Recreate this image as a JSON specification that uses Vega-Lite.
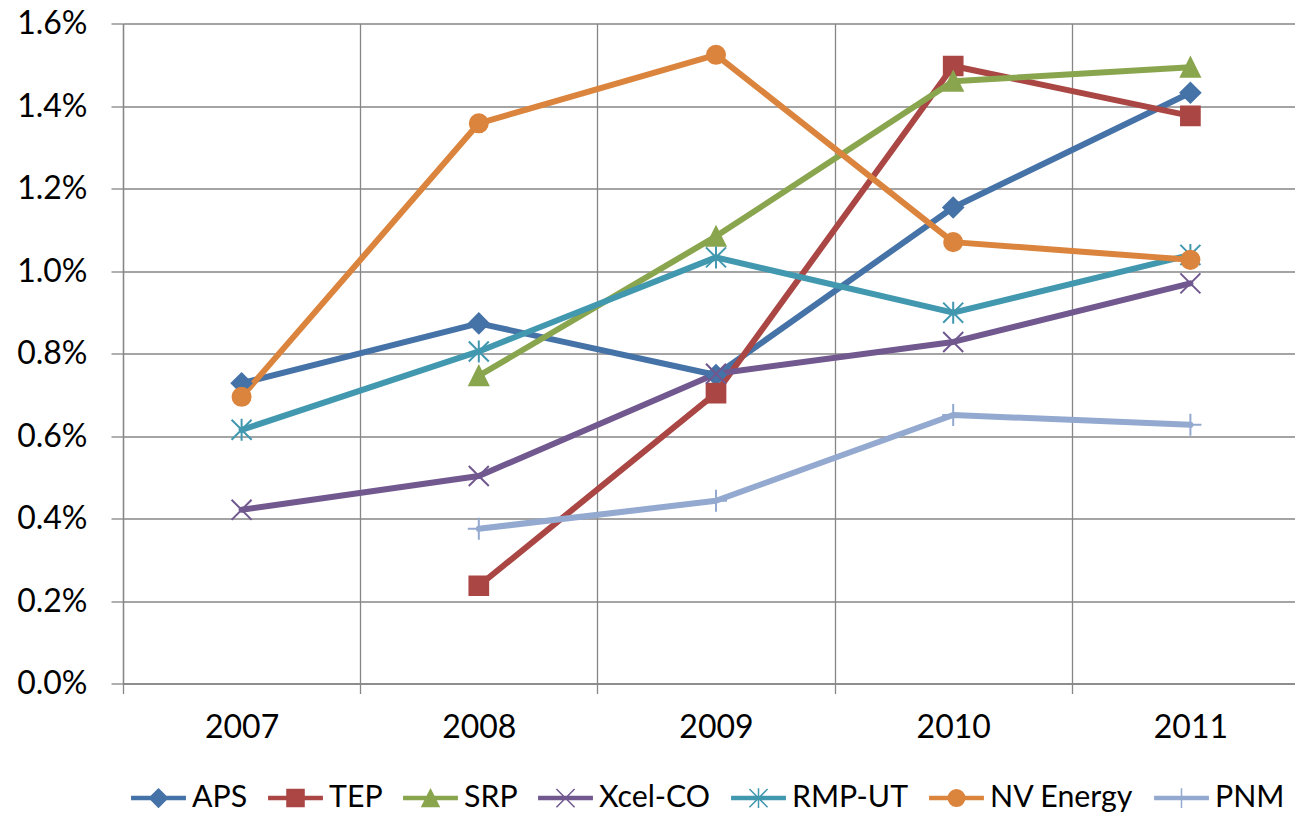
{
  "$schema": "https://vega.github.io/schema/vega-lite/v6.json",
  "width": 1172,
  "height": 660,
  "autosize": {"type": "none"},
  "padding": {"left": 123, "top": 23.5, "right": 0, "bottom": 131.5},
  "background": "white",
  "config": {
    "view": {"stroke": null},
    "font": "Lato",
    "legend": {"padding": 0, "labelFontSize": 30.3, "labelFont": "Lato", "labelColor": "black", "labelOffset": 5, "columnPadding": 17, "symbolSize": 3025, "labelLimit": 400}
  },
  "data": {
    "values": [
      {"series": "APS", "year": 2007, "value": 0.00728},
      {"series": "APS", "year": 2008, "value": 0.00873},
      {"series": "APS", "year": 2009, "value": 0.00748},
      {"series": "APS", "year": 2010, "value": 0.01154},
      {"series": "APS", "year": 2011, "value": 0.01432},
      {"series": "TEP", "year": 2008, "value": 0.00237},
      {"series": "TEP", "year": 2009, "value": 0.00704},
      {"series": "TEP", "year": 2010, "value": 0.01497},
      {"series": "TEP", "year": 2011, "value": 0.01376},
      {"series": "SRP", "year": 2008, "value": 0.00746},
      {"series": "SRP", "year": 2009, "value": 0.01084},
      {"series": "SRP", "year": 2010, "value": 0.0146},
      {"series": "SRP", "year": 2011, "value": 0.01494},
      {"series": "Xcel-CO", "year": 2007, "value": 0.00421},
      {"series": "Xcel-CO", "year": 2008, "value": 0.00503},
      {"series": "Xcel-CO", "year": 2009, "value": 0.00751},
      {"series": "Xcel-CO", "year": 2010, "value": 0.00828},
      {"series": "Xcel-CO", "year": 2011, "value": 0.0097},
      {"series": "RMP-UT", "year": 2007, "value": 0.00615},
      {"series": "RMP-UT", "year": 2008, "value": 0.00805},
      {"series": "RMP-UT", "year": 2009, "value": 0.01033},
      {"series": "RMP-UT", "year": 2010, "value": 0.00899},
      {"series": "RMP-UT", "year": 2011, "value": 0.01039},
      {"series": "NV Energy", "year": 2007, "value": 0.00695},
      {"series": "NV Energy", "year": 2008, "value": 0.01358},
      {"series": "NV Energy", "year": 2009, "value": 0.01524},
      {"series": "NV Energy", "year": 2010, "value": 0.0107},
      {"series": "NV Energy", "year": 2011, "value": 0.01027},
      {"series": "PNM", "year": 2008, "value": 0.00375},
      {"series": "PNM", "year": 2009, "value": 0.00443},
      {"series": "PNM", "year": 2010, "value": 0.00651},
      {"series": "PNM", "year": 2011, "value": 0.00627}
    ]
  },
  "encoding": {
    "x": {
      "field": "year",
      "type": "quantitative",
      "scale": {"domain": [2006.5, 2011.441], "nice": false, "zero": false},
      "axis": {
        "title": null,
        "values": [2006.5, 2007.5, 2008.5, 2009.5, 2010.5],
        "labelExpr": "format(datum.value + 0.5, 'd')",
        "labelOffset": 118.6,
        "labelFlush": false,
        "labelOverlap": false,
        "labelBound": false,
        "labelFontSize": 32,
        "labelFont": "Lato",
        "labelColor": "black",
        "labelPadding": 19,
        "grid": true,
        "gridColor": "#868686",
        "gridWidth": 1.3,
        "domainColor": "#868686",
        "domainWidth": 1.3,
        "tickColor": "#868686",
        "tickWidth": 1.3,
        "tickSize": 10
      }
    },
    "y": {
      "field": "value",
      "type": "quantitative",
      "scale": {"domain": [0, 0.016], "nice": false},
      "axis": {
        "title": null,
        "values": [0, 0.002, 0.004, 0.006, 0.008, 0.01, 0.012, 0.014, 0.016],
        "format": ".1%",
        "labelFontSize": 32,
        "labelFont": "Lato",
        "labelColor": "black",
        "labelPadding": 24,
        "grid": true,
        "gridColor": "#868686",
        "gridWidth": 1.3,
        "domainColor": "#868686",
        "domainWidth": 1.3,
        "tickColor": "#868686",
        "tickWidth": 1.3,
        "tickSize": 12
      }
    }
  },
  "layer": [
    {
      "mark": {"type": "line", "strokeWidth": 6, "strokeJoin": "round", "strokeCap": "round"},
      "encoding": {
        "color": {
          "field": "series", "type": "nominal",
          "scale": {"domain": ["APS", "TEP", "SRP", "Xcel-CO", "RMP-UT", "NV Energy", "PNM"], "range": ["#4572A7", "#AA4643", "#89A54E", "#71588F", "#4198AF", "#DB843D", "#93A9CF"]},
          "legend": null
        }
      }
    },
    {
      "mark": {"type": "point", "filled": true, "size": 484, "strokeWidth": 2, "opacity": 1},
      "encoding": {
        "color": {
          "field": "series", "type": "nominal",
          "scale": {"domain": ["APS", "TEP", "SRP", "Xcel-CO", "RMP-UT", "NV Energy", "PNM"], "range": ["#4572A7", "#AA4643", "#89A54E", "#71588F", "#4198AF", "#DB843D", "#93A9CF"]},
          "legend": null
        },
        "stroke": {
          "field": "series", "type": "nominal",
          "scale": {"domain": ["APS", "TEP", "SRP", "Xcel-CO", "RMP-UT", "NV Energy", "PNM"], "range": ["#4572A7", "#AA4643", "#89A54E", "#71588F", "#4198AF", "#DB843D", "#93A9CF"]},
          "legend": null
        },
        "shape": {
          "field": "series", "type": "nominal",
          "scale": {
            "domain": ["APS", "TEP", "SRP", "Xcel-CO", "RMP-UT", "NV Energy", "PNM"],
            "range": [
              "M-0.9,0L0,-0.9L0.9,0L0,0.9Z",
              "M-0.85,-0.85L0.85,-0.85L0.85,0.85L-0.85,0.85Z",
              "M0,-0.86L0.86,0.86L-0.86,0.86Z",
              "M-0.91,-0.91L0.91,0.91M-0.91,0.91L0.91,-0.91",
              "M-0.91,-0.91L0.91,0.91M-0.91,0.91L0.91,-0.91M0,-1L0,1",
              "M-0.82,0A0.82,0.82 0 1,1 0.82,0A0.82,0.82 0 1,1 -0.82,0Z",
              "M-1,0L1,0M0,-1L0,1"
            ]
          },
          "legend": null
        }
      }
    },
    {
      "mark": {"type": "point", "filled": true, "size": 0, "strokeWidth": 2, "opacity": 1},
      "encoding": {
        "color": {
          "field": "series", "type": "nominal",
          "scale": {"domain": ["APS", "TEP", "SRP", "Xcel-CO", "RMP-UT", "NV Energy", "PNM"], "range": ["#4572A7", "#AA4643", "#89A54E", "#71588F", "#4198AF", "#DB843D", "#93A9CF"]},
          "legend": {"title": null, "orient": "none", "legendX": 7, "legendY": 746, "direction": "horizontal", "columns": 7}
        },
        "stroke": {
          "field": "series", "type": "nominal",
          "scale": {"domain": ["APS", "TEP", "SRP", "Xcel-CO", "RMP-UT", "NV Energy", "PNM"], "range": ["#4572A7", "#AA4643", "#89A54E", "#71588F", "#4198AF", "#DB843D", "#93A9CF"]},
          "legend": {"title": null, "orient": "none", "legendX": 7, "legendY": 746, "direction": "horizontal", "columns": 7}
        },
        "shape": {
          "field": "series", "type": "nominal",
          "scale": {
            "domain": ["APS", "TEP", "SRP", "Xcel-CO", "RMP-UT", "NV Energy", "PNM"],
            "range": [
              "M-0.97,-0.055L0.97,-0.055L0.97,0.055L-0.97,0.055ZM-0.33,0L0,-0.33L0.33,0L0,0.33Z",
              "M-0.97,-0.055L0.97,-0.055L0.97,0.055L-0.97,0.055ZM-0.31,-0.31L0.31,-0.31L0.31,0.31L-0.31,0.31Z",
              "M-0.97,-0.055L0.97,-0.055L0.97,0.055L-0.97,0.055ZM0,-0.31L0.31,0.31L-0.31,0.31Z",
              "M-0.97,-0.055L0.97,-0.055L0.97,0.055L-0.97,0.055ZM-0.33,-0.33L0.33,0.33M-0.33,0.33L0.33,-0.33",
              "M-0.97,-0.055L0.97,-0.055L0.97,0.055L-0.97,0.055ZM-0.33,-0.33L0.33,0.33M-0.33,0.33L0.33,-0.33M0,-0.36L0,0.36",
              "M-0.97,-0.055L0.97,-0.055L0.97,0.055L-0.97,0.055ZM-0.3,0A0.3,0.3 0 1,1 0.3,0A0.3,0.3 0 1,1 -0.3,0Z",
              "M-0.97,-0.055L0.97,-0.055L0.97,0.055L-0.97,0.055ZM0,-0.36L0,0.36"
            ]
          },
          "legend": {"title": null, "orient": "none", "legendX": 7, "legendY": 746, "direction": "horizontal", "columns": 7}
        }
      }
    }
  ],
  "resolve": {"scale": {"color": "independent", "stroke": "independent", "shape": "independent"}}
}
